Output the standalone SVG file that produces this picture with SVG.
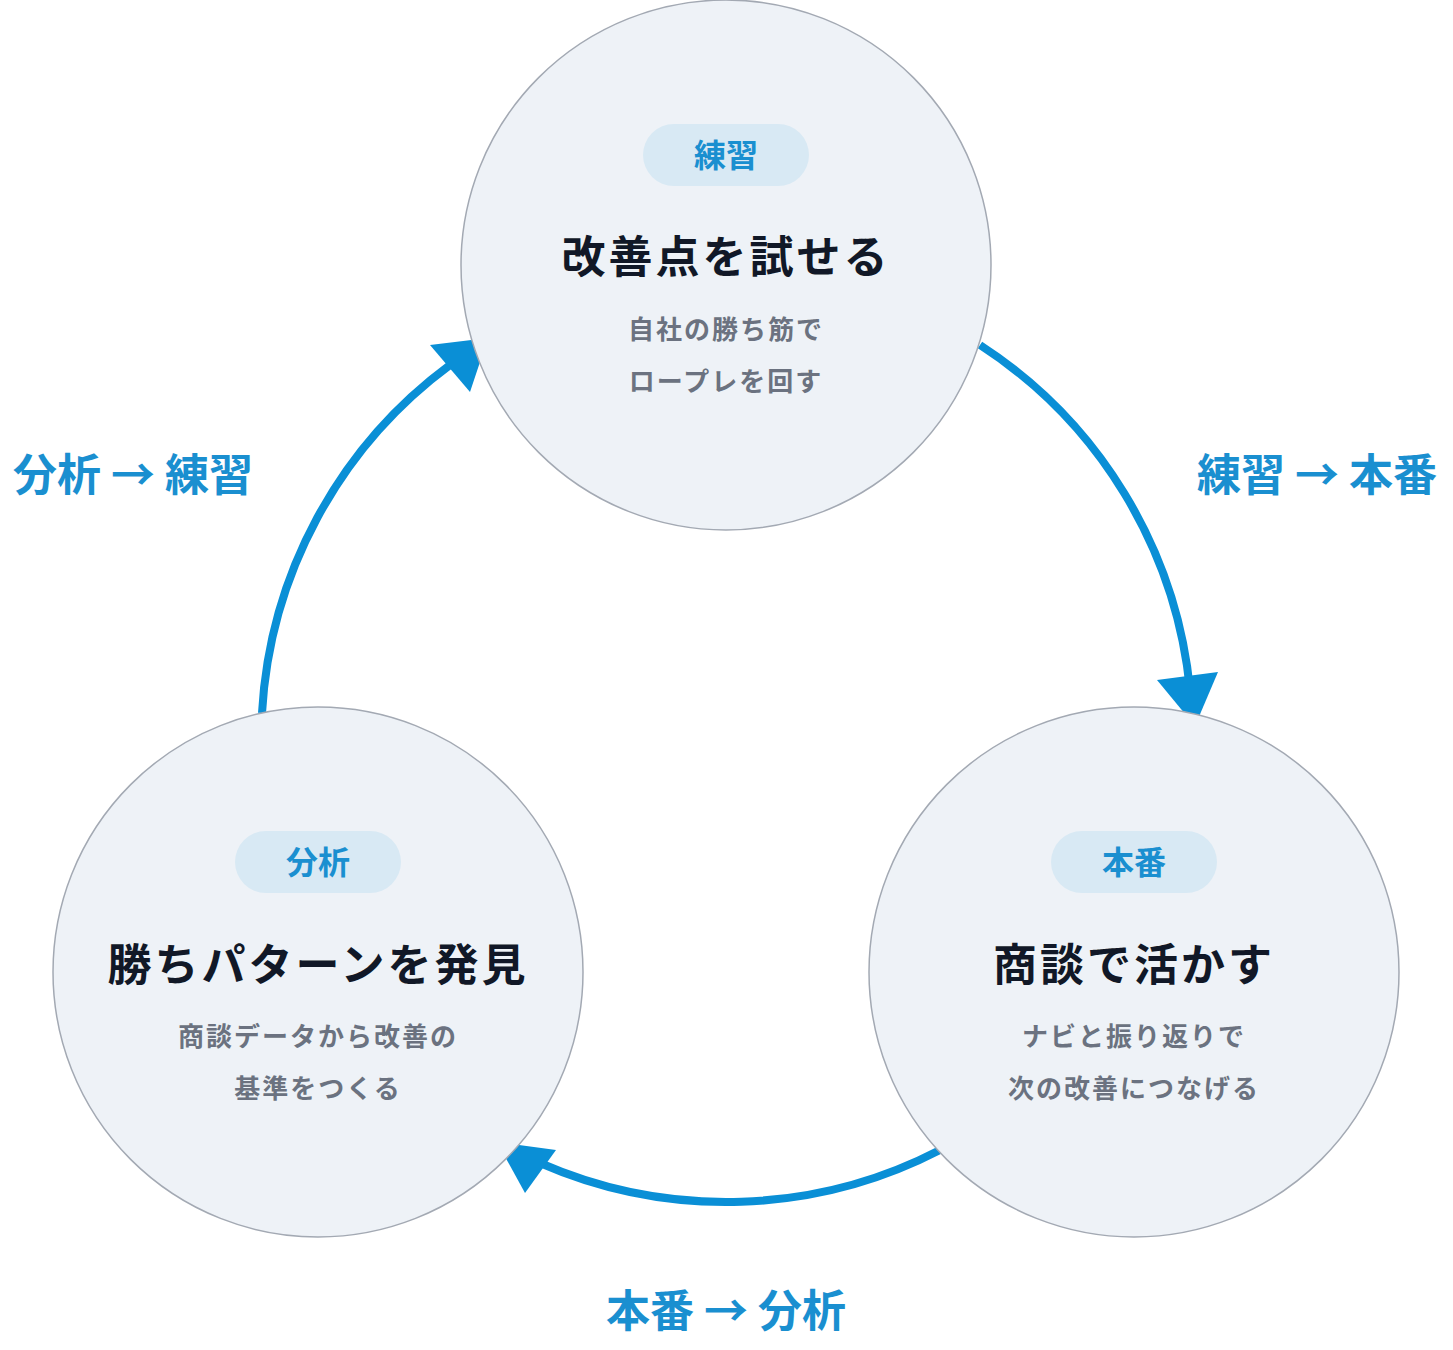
<svg xmlns="http://www.w3.org/2000/svg" width="1453" height="1350" viewBox="0 0 1453 1350">
<style>
.c{fill:#eef2f7;stroke:#a3a9b3;stroke-width:1.5}
.p{fill:#d8e9f4}
.pt{font-family:"Noto Sans CJK JP",sans-serif;font-weight:700;font-size:32px;fill:#1a8fd0;text-anchor:middle}
.t{font-family:"Noto Sans CJK JP",sans-serif;font-weight:700;font-size:44px;fill:#111827;text-anchor:middle;letter-spacing:3px}
.s{font-family:"Noto Sans CJK JP",sans-serif;font-weight:700;font-size:26px;fill:#6b7280;text-anchor:middle;letter-spacing:2px}
.l{font-family:"Noto Sans CJK JP",sans-serif;font-weight:700;font-size:44px;fill:#1a8fd0;text-anchor:middle}
.a{fill:none;stroke:#0a8fd6;stroke-width:8}
.h{fill:#0a8fd6}
</style>
<g id="connectors">
<path class="a" d="M 980 345 A 465 465 0 0 1 1190 690"/>
<polygon class="h" points="1195,726 1157,680 1218,672"/>
<path class="a" d="M 940 1150 A 465 465 0 0 1 540 1163"/>
<polygon class="h" points="497,1142 525,1193 556,1150"/>
<path class="a" d="M 262 713 A 465 465 0 0 1 450 365"/>
<polygon class="h" points="488,338 430,345 470,392"/>
</g>
<g id="node-practice">
<circle class="c" cx="726" cy="265" r="265"/>
<rect class="p" x="643" y="124" width="166" height="62" rx="31"/>
<text class="pt" x="726" y="167">練習</text>
<text class="t" x="726" y="273">改善点を試せる</text>
<text class="s" x="726" y="339">自社の勝ち筋で</text>
<text class="s" x="726" y="391">ロープレを回す</text>
</g>
<g id="node-live">
<circle class="c" cx="1134" cy="972" r="265"/>
<rect class="p" x="1051" y="831" width="166" height="62" rx="31"/>
<text class="pt" x="1134" y="874">本番</text>
<text class="t" x="1134" y="981">商談で活かす</text>
<text class="s" x="1134" y="1046">ナビと振り返りで</text>
<text class="s" x="1134" y="1098">次の改善につなげる</text>
</g>
<g id="node-analysis">
<circle class="c" cx="318" cy="972" r="265"/>
<rect class="p" x="235" y="831" width="166" height="62" rx="31"/>
<text class="pt" x="318" y="874">分析</text>
<text class="t" x="318" y="981">勝ちパターンを発見</text>
<text class="s" x="318" y="1046">商談データから改善の</text>
<text class="s" x="318" y="1098">基準をつくる</text>
</g>
<g id="labels">
<text class="l" x="133" y="491">分析 → 練習</text>
<text class="l" x="1317" y="491">練習 → 本番</text>
<text class="l" x="726" y="1327">本番 → 分析</text>
</g>
</svg>
